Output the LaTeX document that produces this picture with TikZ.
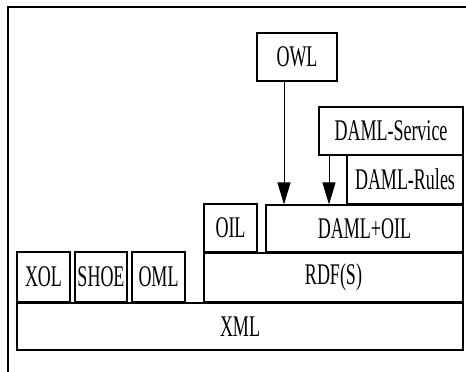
\documentclass[tikz,border=0pt]{standalone}
\usepackage{fontspec}
\setmainfont{Liberation Serif}
\usetikzlibrary{arrows.meta}
\newcommand\sqz[1]{\raisebox{-3pt}{\scalebox{0.6}[1]{#1}}}
\begin{document}
\begin{tikzpicture}[x=1pt,y=-1pt,
  box/.style={draw, line width=1.1pt, rectangle, inner sep=0pt, font=\fontsize{30}{32}\selectfont},
  arr/.style={line width=1pt, -{Triangle[length=22pt,width=13pt]}}]
\useasboundingbox (0,0) rectangle (466,372);
\draw[line width=1.2pt] (8,372) -- (8,7) -- (466,7);
\node[box, minimum width=446pt, minimum height=47pt] (xml) at (240,326.5) {\sqz{XML}};
\node[box, minimum width=53pt, minimum height=50pt] (xol) at (43.5,277) {\sqz{XOL}};
\node[box, minimum width=52pt, minimum height=50pt] (shoe) at (101,277) {\sqz{SHOE}};
\node[box, minimum width=53pt, minimum height=50pt] (oml) at (158.5,277) {\sqz{OML}};
\node[box, minimum width=259pt, minimum height=49pt] (rdf) at (333.5,277.5) {\sqz{RDF(S)}};
\node[box, minimum width=53pt, minimum height=48pt] (oil) at (230.5,228) {\sqz{OIL}};
\node[box, minimum width=197pt, minimum height=47pt] (damloil) at (364.5,228.5) {\sqz{DAML+OIL}};
\node[box, minimum width=116pt, minimum height=49pt] (rules) at (405,179.5) {\sqz{DAML-Rules}};
\node[box, minimum width=144pt, minimum height=48pt] (service) at (391,131) {\sqz{DAML-Service}};
\node[box, minimum width=80pt, minimum height=48pt] (owl) at (297,57) {\sqz{OWL}};
\coordinate (a1) at (284,0);
\coordinate (a2) at (329,0);
\draw[arr] (owl.south -| a1) -- (damloil.north -| a1);
\draw[arr] (service.south -| a2) -- (damloil.north -| a2);
\end{tikzpicture}
\end{document}
